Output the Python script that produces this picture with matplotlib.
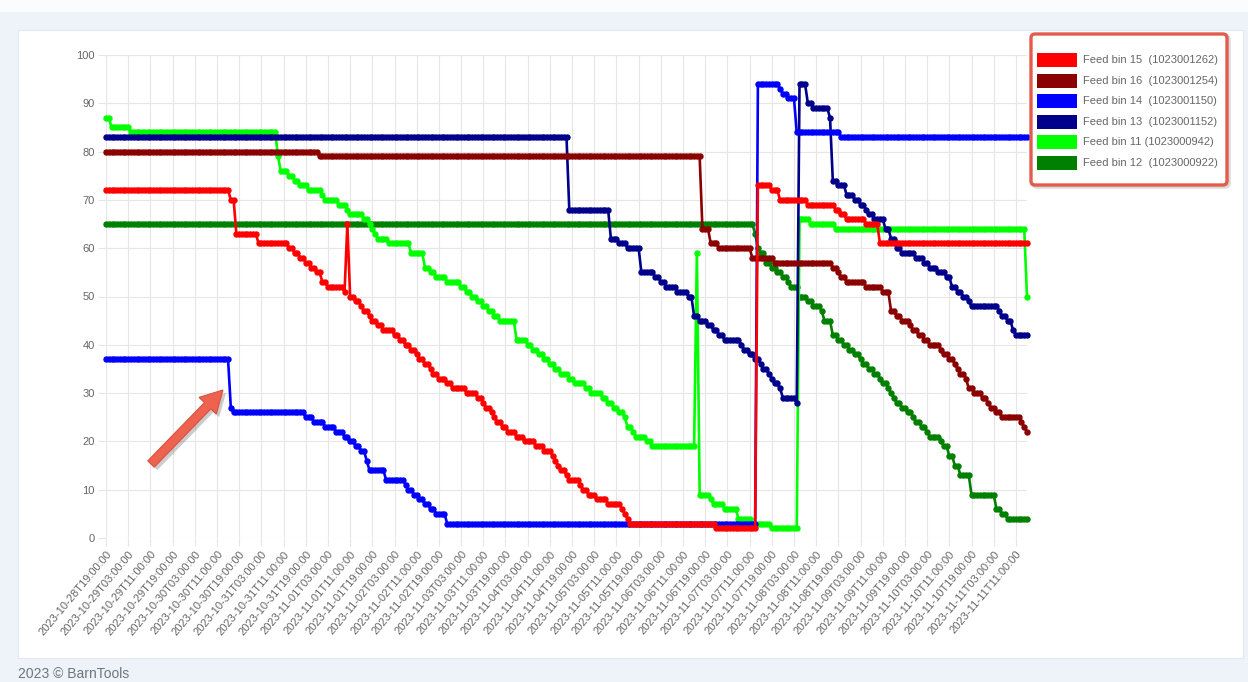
import numpy as np
import pandas as pd
import matplotlib
matplotlib.use("Agg")
import matplotlib.pyplot as plt
from matplotlib.patches import Rectangle, FancyBboxPatch, FancyArrow
from matplotlib.transforms import IdentityTransform

W, H = 1248, 682
n_hours = 333  # hourly readings from 2023-10-28T19:00

# each bin: hour at which a new level starts, and that level (%)
bin15_hours = [0, 45, 47, 55, 66, 68, 70, 72, 74, 76, 78, 80, 86, 87, 88, 90, 92, 93, 95, 96,
               98, 100, 104, 106, 108, 110, 112, 113, 115, 117, 118, 120, 123, 125, 130, 134,
               136, 137, 139, 140, 141, 143, 145, 148, 151, 155, 158, 161, 162, 163, 164, 166,
               167, 171, 172, 174, 177, 181, 186, 187, 188, 189, 220, 235, 240, 243, 253, 263,
               265, 267, 274, 279]
bin15_levels = [72, 70, 63, 61, 60, 59, 58, 57, 56, 55, 53, 52, 51, 65, 50, 49, 48, 47, 46, 45,
                44, 43, 42, 41, 40, 39, 38, 37, 36, 35, 34, 33, 32, 31, 30, 29,
                28, 27, 26, 25, 24, 23, 22, 21, 20, 19, 18, 17, 16, 15, 14, 13,
                12, 11, 10, 9, 8, 7, 6, 5, 4, 3, 2, 73, 72, 70, 69, 68,
                67, 66, 65, 61]

bin16_hours = [0, 77, 215, 218, 221, 233, 241, 262, 264, 265, 267, 274, 280, 283, 285, 287,
               290, 291, 293, 295, 297, 301, 302, 304, 306, 307, 308, 310, 311, 313, 316, 318,
               319, 321, 323, 330, 331, 332]
bin16_levels = [80, 79, 64, 61, 60, 58, 57, 56, 55, 54, 53, 52, 51, 47, 46, 45,
                44, 43, 42, 41, 40, 39, 38, 37, 36, 35, 34, 33, 31, 30, 29, 28,
                27, 26, 25, 24, 23, 22]

bin14_hours = [0, 45, 46, 72, 75, 79, 83, 86, 88, 90, 92, 94, 95, 101, 108, 109, 111, 113,
               115, 117, 119, 123, 235, 243, 244, 246, 249, 265]
bin14_levels = [37, 27, 26, 25, 24, 23, 22, 21, 20, 19, 18, 16, 14, 12, 11, 10, 9, 8,
                7, 6, 5, 3, 94, 93, 92, 91, 84, 83]

bin13_hours = [0, 167, 182, 185, 188, 193, 198, 200, 202, 206, 210, 212, 214, 217, 219, 221,
               223, 229, 230, 232, 234, 236, 237, 239, 240, 241, 243, 244, 249, 250, 253, 255,
               261, 262, 264, 267, 270, 272, 274, 275, 277, 281, 283, 285, 287, 292, 295, 297,
               300, 303, 305, 307, 309, 311, 312, 322, 323, 325, 327, 328]
bin13_levels = [83, 68, 62, 61, 60, 55, 54, 53, 52, 51, 50, 46, 45, 44, 43, 42,
                41, 40, 39, 38, 37, 36, 35, 34, 33, 32, 31, 29, 28, 94, 90, 89,
                87, 74, 73, 71, 70, 69, 68, 67, 66, 64, 62, 60, 59, 58, 57, 56,
                55, 54, 52, 51, 50, 49, 48, 47, 46, 45, 43, 42]

bin11_hours = [0, 2, 9, 62, 63, 66, 68, 70, 73, 78, 79, 84, 87, 88, 93, 95, 96, 97, 98, 102,
               110, 115, 117, 119, 123, 128, 130, 132, 134, 136, 138, 140, 142, 148, 152, 154,
               156, 158, 160, 162, 164, 167, 169, 173, 175, 179, 181, 183, 185, 187, 188, 190,
               191, 195, 197, 213, 214, 218, 219, 223, 228, 233, 240, 250, 254, 263, 332]
bin11_levels = [87, 85, 84, 79, 76, 75, 74, 73, 72, 71, 70, 69, 68, 67, 66, 65, 64, 63, 62, 61,
                59, 56, 55, 54, 53, 52, 51, 50, 49, 48, 47, 46, 45, 41, 40, 39,
                38, 37, 36, 35, 34, 33, 32, 31, 30, 29, 28, 27, 26, 25, 23, 22,
                21, 20, 19, 59, 9, 8, 7, 6, 4, 3, 2, 66, 65, 64, 50]

bin12_hours = [0, 234, 235, 236, 238, 240, 242, 244, 246, 247, 250, 253, 255, 258, 259, 262,
               264, 266, 268, 270, 272, 273, 275, 277, 279, 280, 282, 283, 284, 285, 287, 289,
               291, 292, 294, 296, 297, 301, 302, 304, 306, 308, 312, 321, 323, 325]
bin12_levels = [65, 63, 60, 59, 57, 56, 55, 54, 53, 52, 50, 49, 48, 47, 45, 42,
                41, 40, 39, 38, 37, 36, 35, 34, 33, 32, 31, 30, 29, 28, 27, 26,
                25, 24, 23, 22, 21, 20, 19, 17, 15, 13, 9, 6, 5, 4]

labels = ["Feed bin 15  (1023001262)", "Feed bin 16  (1023001254)", "Feed bin 14  (1023001150)",
          "Feed bin 13  (1023001152)", "Feed bin 11 (1023000942)", "Feed bin 12  (1023000922)"]
colors = ["#ff0000", "#8b0000", "#0000ff", "#00008b", "#00ff00", "#008000"]

tick_labels = pd.date_range("2023-10-28 19:00", "2023-11-11 11:00", freq="8h").strftime("%Y-%m-%dT%H:%M:%S")


def expand(hours, levels):
    runs = np.diff(hours + [n_hours])
    return np.repeat(levels, runs)


series = [expand(bin15_hours, bin15_levels), expand(bin16_hours, bin16_levels),
          expand(bin14_hours, bin14_levels), expand(bin13_hours, bin13_levels),
          expand(bin11_hours, bin11_levels), expand(bin12_hours, bin12_levels)]

px = IdentityTransform()

fig = plt.figure(figsize=(W / 100, H / 100), dpi=100)
fig.patch.set_facecolor("#eef3fa")

# page chrome
fig.add_artist(Rectangle((0, H - 12), W, 12, transform=px, fc="#fbfcfe", ec="none", zorder=-2))
fig.add_artist(Rectangle((18, H - 658), 1225, 628, transform=px, fc="white", ec="#e3e8f0",
                         lw=0.8, zorder=-1))
fig.text(18, H - 667, "2023 \u00a9 BarnTools", transform=px, fontsize=10, color="#6c757d",
         va="top", family="Liberation Sans")

ax = fig.add_axes([106 / W, 1 - 538 / H, (1027 - 106) / W, (538 - 55) / H])
ax.set_facecolor("none")

x = np.arange(n_hours)
for i, (vals, c) in enumerate(zip(series, colors)):
    ax.plot(x, vals, color=c, lw=1.9, marker="o", markersize=4.6, markeredgewidth=0,
            zorder=10 - i, clip_on=False)

ax.set_xlim(0, n_hours - 1)
ax.set_ylim(0, 100)
ax.set_yticks(range(0, 101, 10))
ax.set_xticks(np.arange(0, n_hours, 8)[:len(tick_labels)])
ax.set_xticklabels(tick_labels, rotation=50, ha="right", rotation_mode="anchor")
ax.grid(True, color="#e6e6e6", lw=0.8)
ax.set_axisbelow(True)
for s in ax.spines.values():
    s.set_visible(False)
ax.tick_params(colors="#e6e6e6", length=6, width=0.8, labelcolor="#666666", labelsize=8, pad=2)
for t in ax.get_xticklabels() + ax.get_yticklabels():
    t.set_family("Liberation Sans")

# legend with red markup box
fig.add_artist(FancyBboxPatch((1033, H - 187), 196, 151, boxstyle="round,pad=0,rounding_size=4",
                              transform=px, fc="none", ec="#000000", lw=2.5, alpha=0.15, zorder=4))
fig.add_artist(FancyBboxPatch((1031, H - 185), 196, 151, boxstyle="round,pad=0,rounding_size=4",
                              transform=px, fc="white", ec="#e35b4d", lw=2.4, zorder=5))
for i, (lab, c) in enumerate(zip(labels, colors)):
    yc = 60 + i * 20.6
    fig.add_artist(Rectangle((1037, H - yc - 7), 40, 14, transform=px, fc=c, ec="none", zorder=6))
    fig.text(1083, H - yc, lab, transform=px, fontsize=8, color="#666666", va="center",
             family="Liberation Sans", zorder=6)

# markup arrow
fig.add_artist(FancyArrow(154, H - 467, 72, 74, width=9, head_width=24, head_length=22,
                          length_includes_head=True, transform=px, fc="#000000", ec="none",
                          alpha=0.2, zorder=7))
fig.add_artist(FancyArrow(151, H - 464, 72, 74, width=9, head_width=24, head_length=22,
                          length_includes_head=True, transform=px, fc="#ee6250", ec="#d9503f",
                          lw=0.8, zorder=8))

fig.savefig("out.png", dpi=100, facecolor=fig.get_facecolor())
